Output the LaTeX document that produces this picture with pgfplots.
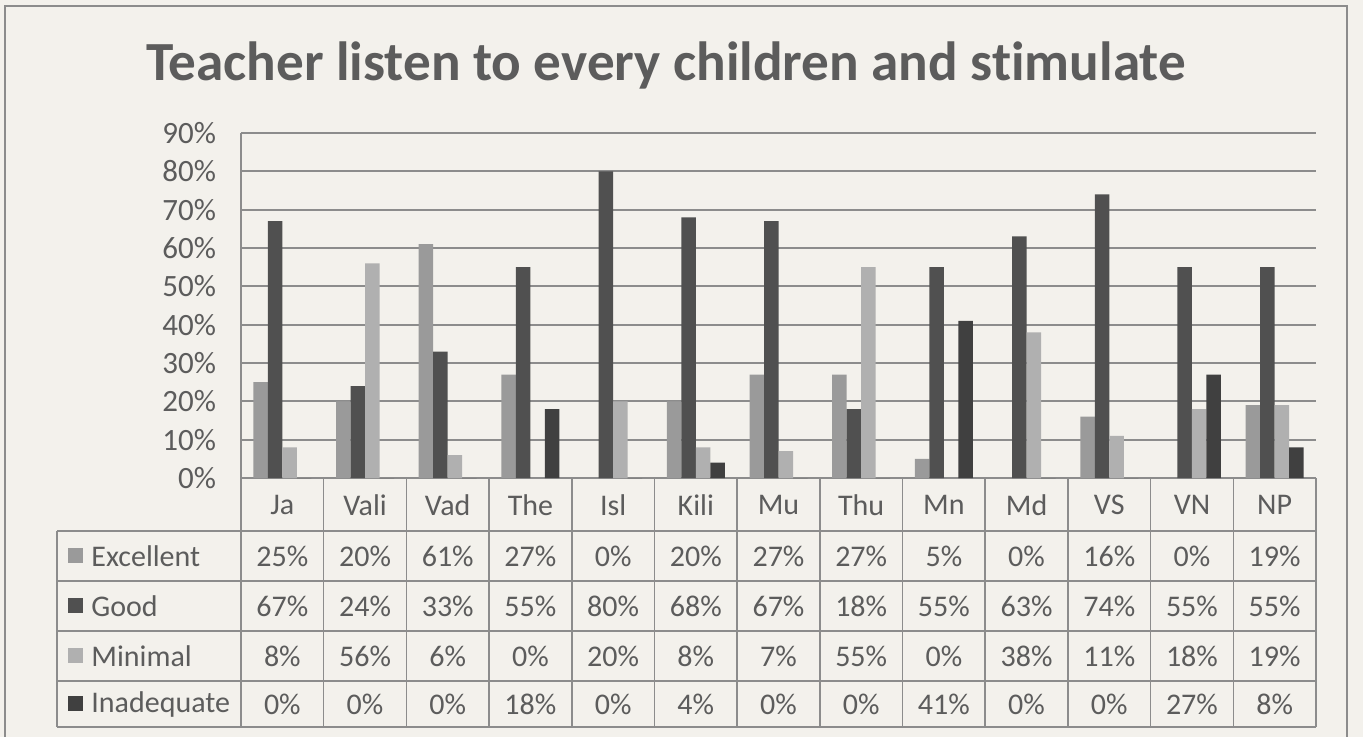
\documentclass[border=0pt]{standalone}
\usepackage{pgfplots}
\pgfplotsset{compat=1.18}
\usepackage{fontspec}
\setmainfont{Carlito}[Ligatures=NoCommon]
\definecolor{bg}{HTML}{F3F1EC}
\definecolor{txt}{HTML}{5C5C5C}
\definecolor{gridc}{HTML}{8C8C8C}
\definecolor{cEx}{HTML}{9A9A9A}
\definecolor{cGo}{HTML}{505050}
\definecolor{cMi}{HTML}{B0B0B0}
\definecolor{cIn}{HTML}{404040}
\begin{document}
\begin{tikzpicture}
\begin{scope}[x=0.5pt,y=-0.5pt]
\fill[bg] (0,0) rectangle (1363,737);
\path[use as bounding box] (0,0) rectangle (1363,737);
\draw[gridc, line width=0.8pt] (5,6) rectangle (1347,745);
\node[txt, font=\bfseries\fontsize{27.6}{32}\selectfont] at (666,65) {Teacher listen to every children and stimulate};
\end{scope}
\begin{axis}[at={(120.5pt,-239pt)}, anchor=south west,
  scale only axis, width=537.5pt, height=172.5pt,
  xmin=-0.5, xmax=12.5, ymin=0, ymax=90, enlargelimits=false,
  ybar=0pt, bar width=7.25pt,
  axis lines*=left, axis line style={gridc, line width=1pt},
  ymajorgrids, grid style={gridc, line width=1pt},
  major tick length=0pt,
  ytick={0,10,...,90},
  yticklabel={\pgfmathprintnumber{\tick}\%},
  /pgf/number format/assume math mode=true,
  yticklabel style={font=\fontsize{15.5}{17}\selectfont, text=txt, xshift=-9pt},
  xtick={0,...,12},
  xticklabels={Ja,Vali,Vad,The,Isl,Kili,Mu,Thu,Mn,Md,VS,VN,NP},
  xticklabel style={font=\fontsize{15}{17}\selectfont, text=txt, anchor=center, yshift=-13.5pt},
  clip=false]
\addplot[fill=cEx, draw=none] coordinates {(0,25)(1,20)(2,61)(3,27)(4,0)(5,20)(6,27)(7,27)(8,5)(9,0)(10,16)(11,0)(12,19)};
\addplot[fill=cGo, draw=none] coordinates {(0,67)(1,24)(2,33)(3,55)(4,80)(5,68)(6,67)(7,18)(8,55)(9,63)(10,74)(11,55)(12,55)};
\addplot[fill=cMi, draw=none] coordinates {(0,8)(1,56)(2,6)(3,0)(4,20)(5,8)(6,7)(7,55)(8,0)(9,38)(10,11)(11,18)(12,19)};
\addplot[fill=cIn, draw=none] coordinates {(0,0)(1,0)(2,0)(3,18)(4,0)(5,4)(6,0)(7,0)(8,41)(9,0)(10,0)(11,27)(12,8)};
\end{axis}
\begin{scope}[x=0.5pt,y=-0.5pt]
\foreach \k in {0,...,13} \draw[gridc, line width=0.8pt] ({241+82.69*\k},478) -- ({241+82.69*\k},727);
\draw[gridc, line width=0.8pt] (57,531) -- (57,727);
\foreach \yy in {531,581,631,681,727} \draw[gridc, line width=0.8pt] (57,\yy) -- (1316,\yy);
\foreach \nm/\col/\yy in {Excellent/cEx/556,Good/cGo/606,Minimal/cMi/656,Inadequate/cIn/704}{
  \fill[\col] (68,{\yy-8}) rectangle (83,{\yy+7});
  \node[txt, anchor=west, inner sep=0pt, font=\fontsize{15}{17}\selectfont] at (91,\yy) {\nm};
}
\foreach \v [count=\i from 0] in {25,20,61,27,0,20,27,27,5,0,16,0,19}
  \node[txt, font=\fontsize{15}{17}\selectfont] at ({241+82.69*(\i+0.5)},556) {\v\%};
\foreach \v [count=\i from 0] in {67,24,33,55,80,68,67,18,55,63,74,55,55}
  \node[txt, font=\fontsize{15}{17}\selectfont] at ({241+82.69*(\i+0.5)},606) {\v\%};
\foreach \v [count=\i from 0] in {8,56,6,0,20,8,7,55,0,38,11,18,19}
  \node[txt, font=\fontsize{15}{17}\selectfont] at ({241+82.69*(\i+0.5)},656) {\v\%};
\foreach \v [count=\i from 0] in {0,0,0,18,0,4,0,0,41,0,0,27,8}
  \node[txt, font=\fontsize{15}{17}\selectfont] at ({241+82.69*(\i+0.5)},704) {\v\%};
\end{scope}
\end{tikzpicture}
\end{document}
